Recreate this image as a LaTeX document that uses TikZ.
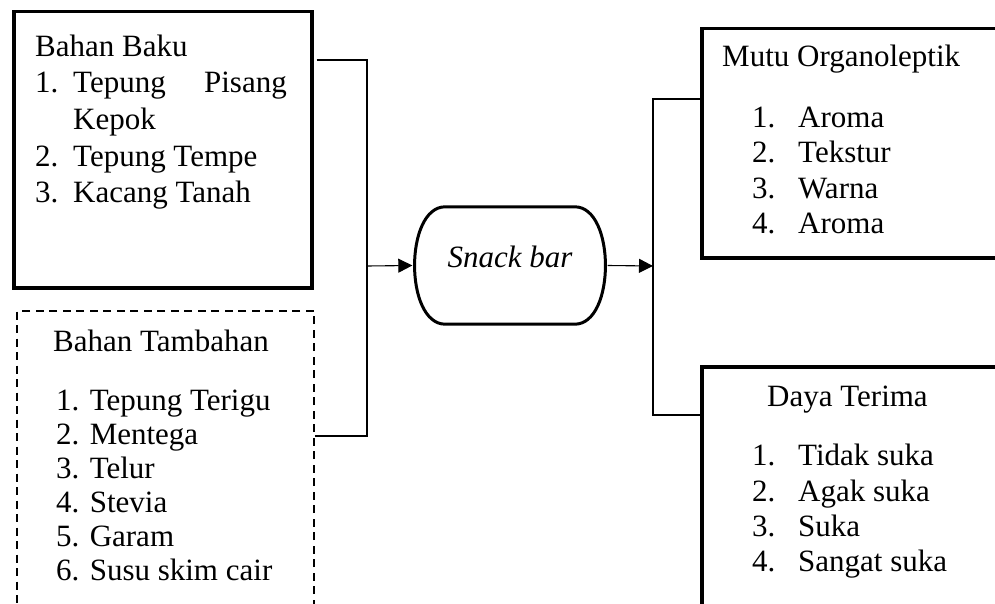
\documentclass[tikz,border=0pt]{standalone}
\usepackage{fontspec}
\setmainfont{Liberation Serif}
\usetikzlibrary{arrows.meta,calc}
\begin{document}
\begin{tikzpicture}[x=1pt,y=-1pt,
  every node/.style={font=\fontsize{31}{36}\selectfont},
  thickbox/.style={draw,line width=3.5pt,inner sep=0pt,anchor=north west},
  dashbox/.style={draw,line width=2.4pt,dash pattern=on 8pt off 5.5pt,inner sep=0pt,anchor=north west},
  conn/.style={line width=1.1pt},
  arr/.style={conn,-{Triangle[length=14pt,width=14pt]}},
  txt/.style={anchor=base west,inner sep=0pt},
  txte/.style={anchor=base east,inner sep=0pt}]
\useasboundingbox (0,0) rectangle (995,604);

% boxes
\node[thickbox,minimum width=298pt,minimum height=276pt] (baku) at (12,10) {};
\node[dashbox,minimum width=297pt,minimum height=310pt] (tambah) at (16,310) {};
\node[thickbox,minimum width=310pt,minimum height=229pt] (mutu) at (700,27) {};
\node[thickbox,minimum width=310pt,minimum height=255pt] (daya) at (700,365) {};

% snack bar
\node[minimum width=195pt,minimum height=117pt,inner sep=0pt] (snack) at (510,265.5) {};
\draw[line width=3pt] ($(snack.north west)+(33,0)$) -- ($(snack.north east)+(-33,0)$)
  .. controls ($(snack.north east)+(8,0)$) and ($(snack.south east)+(8,0)$) .. ($(snack.south east)+(-33,0)$)
  -- ($(snack.south west)+(33,0)$)
  .. controls ($(snack.south west)+(-8,0)$) and ($(snack.north west)+(-8,0)$) .. cycle;
\node[anchor=base,inner sep=0pt] (snacktxt) at (510,267) {\textit{Snack bar}};

% junctions
\coordinate (jl) at (367,266);
\coordinate (jr) at (653,266);

% connectors
\draw[conn] ($(baku.north east)+(3,50)$) -| (jl);
\draw[conn] ($(tambah.north east)+(0,126)$) -| (jl);
\draw[arr] (jl) -- (snack.west);
\draw[arr] (snack.east) -- (jr);
\draw[conn] (jr) |- ($(mutu.north west)+(0,72)$);
\draw[conn] (jr) |- ($(daya.north west)+(0,50)$);

% Bahan Baku text
\node[txt] (b0) at (35,57) {Bahan Baku};
\node[txt] (b1n) at (35,93) {1.};
\node[txt] (b1a) at (73,93) {Tepung};
\node[txte] (b1b) at (287,93) {Pisang};
\node[txt] (b1c) at (73,130) {Kepok};
\node[txt] (b2n) at (35,167) {2.};
\node[txt] (b2) at (73,167) {Tepung Tempe};
\node[txt] (b3n) at (35,203) {3.};
\node[txt] (b3) at (73,203) {Kacang Tanah};

% Bahan Tambahan text
\node[txt] (t0) at (53,351) {Bahan Tambahan};
\node[txt] (t1) at (56,410) {1. Tepung Terigu};
\node[txt] (t2) at (56,444) {2. Mentega};
\node[txt] (t3) at (56,478) {3. Telur};
\node[txt] (t4) at (56,512) {4. Stevia};
\node[txt] (t5) at (56,546) {5. Garam};
\node[txt] (t6) at (56,580) {6. Susu skim cair};

% Mutu Organoleptik text
\node[txt] (m0) at (722,67) {Mutu Organoleptik};
\node[txt] (m1n) at (752,128) {1.};
\node[txt] (m1) at (798,128) {Aroma};
\node[txt] (m2n) at (752,163) {2.};
\node[txt] (m2) at (798,163) {Tekstur};
\node[txt] (m3n) at (752,198) {3.};
\node[txt] (m3) at (798,198) {Warna};
\node[txt] (m4n) at (752,233) {4.};
\node[txt] (m4) at (798,233) {Aroma};

% Daya Terima text
\node[txt] (d0) at (767,406) {Daya Terima};
\node[txt] (d1n) at (752,465) {1.};
\node[txt] (d1) at (798,465) {Tidak suka};
\node[txt] (d2n) at (752,501) {2.};
\node[txt] (d2) at (798,501) {Agak suka};
\node[txt] (d3n) at (752,536) {3.};
\node[txt] (d3) at (798,536) {Suka};
\node[txt] (d4n) at (752,571) {4.};
\node[txt] (d4) at (798,571) {Sangat suka};
\end{tikzpicture}
\end{document}
